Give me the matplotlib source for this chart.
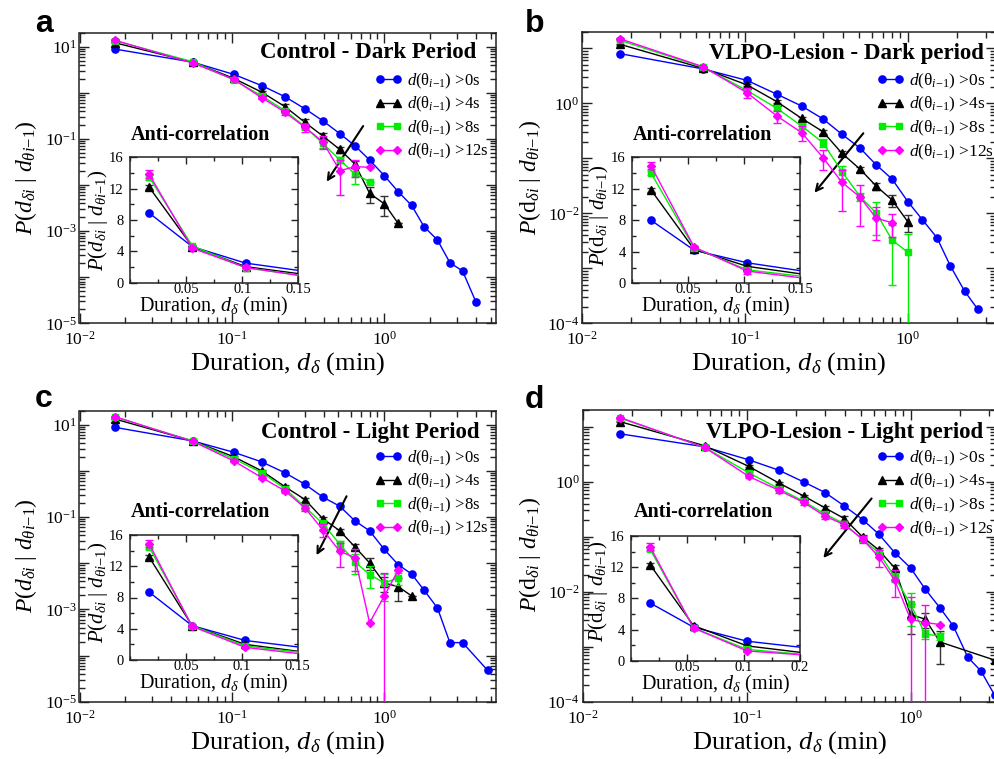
import numpy as np
import matplotlib
matplotlib.use('Agg')
import matplotlib.pyplot as plt
from matplotlib.ticker import FixedLocator, FuncFormatter, LogLocator, NullFormatter, MultipleLocator
from matplotlib.lines import Line2D
from matplotlib.legend_handler import HandlerLine2D

nan = np.nan

# ---------------- data ----------------
# duration bins (min), shared by all panels
x_bins = [0.017, 0.0555, 0.103, 0.157, 0.223, 0.301, 0.394, 0.51, 0.641, 0.80,
          1.0, 1.23, 1.51, 1.82, 2.23, 2.69, 3.26, 3.98, 4.75]

series_labels = [r'$d(\mathrm{θ}_{i{-}1})$ >0s', r'$d(\mathrm{θ}_{i{-}1})$ >4s',
                 r'$d(\mathrm{θ}_{i{-}1})$ >8s', r'$d(\mathrm{θ}_{i{-}1})$ >12s']

# Panel a: Control - Dark Period
a_blue = [8.9, 4.6, 2.5, 1.43, 0.82, 0.45, 0.248, 0.13, 0.071, 0.0348, 0.0159, 0.0072,
          0.0036, 0.00125, 0.00064, 0.000207, 0.000136, 2.95e-5]
a_black = [12.2, 4.6, 2.05, 1.03, 0.5, 0.229, 0.116, 0.059, 0.0285, 0.0066, 0.0039, 0.00148]
a_green = [13.5, 4.7, 1.9, 0.85, 0.41, 0.184, 0.080, 0.035, 0.0173, 0.0118]
a_mag = [13.85, 4.4, 1.95, 0.78, 0.378, 0.178, 0.087, 0.0204, 0.025, 0.0242]
a_black_err = [0.02, 0.02, 0.03, 0.05, 0.12, 0.15, 0.15, 0.15, 0.18, 0.38, 0.45, 0]
a_green_err = [0.03, 0.02, 0.03, 0.05, 0.08, 0.12, 0.2, 0.15, 0.4, 0]
a_mag_err = [0.04, 0.03, 0.05, 0.08, 0.14, 0.2, 0.3, 0.7, 0.4, 0]

# Panel b: VLPO-Lesion - Dark period
b_blue = [8.0, 4.2, 2.6, 1.46, 0.89, 0.52, 0.273, 0.152, 0.0755, 0.042, 0.0163, 0.0076,
          0.0036, 0.00112, 3.86e-4, 1.8e-4]
b_black = [11.85, 4.3, 2.15, 1.07, 0.53, 0.305, 0.123, 0.063, 0.031, 0.0175, 0.0070]
b_green = [14.0, 4.5, 1.7, 0.81, 0.386, 0.192, 0.057, 0.020, 0.010, 0.00327, 0.00195]
b_mag = [14.9, 4.6, 1.55, 0.587, 0.292, 0.103, 0.0366, 0.0195, 0.0081, 0.00676]
b_black_err = [0.02, 0.02, 0.05, 0.05, 0.06, 0.08, 0.1, 0.12, 0.15, 0.25, 0.35]
b_green_err = [0.02, 0.02, 0.05, 0.08, 0.1, 0.15, 0.25, 0.15, 0.6, 0.85, 1.2]
b_mag_err = [0.03, 0.03, 0.2, 0.25, 0.3, 0.4, 0.7, 0.7, 0.6, 0.45]

# Panel c: Control - Light Period
c_blue = [8.7, 4.4, 2.5, 1.55, 0.9, 0.51, 0.27, 0.17, 0.082, 0.05, 0.0197, 0.0093, 0.0058,
          0.0026, 0.00107, 1.9e-4, 1.9e-4, nan, 4.8e-5]
c_black = [13.2, 4.4, 2.0, 0.99, 0.45, 0.238, 0.092, 0.05, 0.0224, 0.0101, 0.0037, 0.0031, 0.00195]
c_green = [14.5, 4.4, 1.8, 0.91, 0.41, 0.164, 0.072, 0.0257, 0.0106, 0.00566, 0.0037, 0.0048]
c_mag = [14.9, 4.3, 1.62, 0.71, 0.366, 0.157, 0.053, 0.018, 0.0132, 5.1e-4, 0.00195, 0.007]
c_black_err = [0.02, 0.02, 0.04, 0.06, 0.08, 0.1, 0.1, 0.12, 0.15, 0.3, 0.35, 0.5, 0]
c_green_err = [0.02, 0.02, 0.04, 0.06, 0.08, 0.12, 0.15, 0.2, 0.45, 0.5, 0.6, 0.3]
c_mag_err = [0.03, 0.03, 0.05, 0.08, 0.12, 0.15, 0.3, 0.55, 0.5, 0, 2.2, 0]

# Panel d: VLPO-Lesion - Light period
d_blue = [7.4, 4.3, 2.5, 1.62, 0.99, 0.635, 0.363, 0.205, 0.111, 0.0515, 0.0271, 0.0111,
          0.0051, 0.0024, 6.5e-4, 3.6e-4, 1.31e-4]
d_black = [12.3, 4.5, 1.9, 0.95, 0.55, 0.334, 0.214, 0.099, 0.057, 0.0271, 0.00385, 0.00316,
           0.00122, nan, nan, nan, 5.7e-4]
d_green = [14.3, 4.2, 1.45, 0.75, 0.44, 0.256, 0.173, 0.089, 0.051, 0.0186, 0.0059, 0.00169, 0.00157]
d_mag = [14.6, 4.2, 1.25, 0.70, 0.42, 0.236, 0.166, 0.09, 0.043, 0.0162, 0.00316, 0.00275, 0.00253]
d_black_err = [0.02, 0.02, 0.04, 0.05, 0.06, 0.08, 0.1, 0.1, 0.1, 0.15, 0.55, 0.3, 0.6, nan, nan, nan, 0]
d_green_err = [0.02, 0.02, 0.05, 0.06, 0.08, 0.1, 0.1, 0.1, 0.1, 0.2, 0.6, 0.2, 0.15]
d_mag_err = [0.03, 0.03, 0.06, 0.1, 0.12, 0.12, 0.15, 0.15, 0.35, 0.5, 1.5, 1.1, 0]

titles = ['Control - Dark Period', 'VLPO-Lesion - Dark period',
          'Control - Light Period', 'VLPO-Lesion - Light period']
inset_xticklabels = [['0.05', '0.1', '0.15']] * 3 + [['0.05', '0.1', '0.2']]

# ---------------- style / layout ----------------
plt.rcParams.update({
    'font.family': ['Liberation Serif', 'DejaVu Serif'],
    'mathtext.fontset': 'custom',
    'mathtext.rm': 'Liberation Serif',
    'mathtext.it': 'Liberation Serif:italic',
    'mathtext.bf': 'Liberation Serif:bold',
    'axes.unicode_minus': False,
})

W, H = 995, 759
fig = plt.figure(figsize=(W / 100, H / 100), dpi=100)


def rect(l, t, r, b):
    return [l / W, 1 - b / H, (r - l) / W, (b - t) / H]


def fpt(x, y):
    return (x / W, 1 - y / H)


styles = [('#0000ff', 'o', 5.2), ('#000000', '^', 5.4), ('#00ee00', 's', 4.6), ('#ff00ff', 'D', 4.0)]
ecolors = ['#0000ff', '#333333', '#00ee00', '#ff00ff']

panels = [
    dict(data=[a_blue, a_black, a_green, a_mag], errs=[None, a_black_err, a_green_err, a_mag_err],
         rect=(79.5, 32.8, 496, 323.3), xlim=(0.01, 5.4), ylim=(1e-5, 20), labdecs=(1, -1, -3, -5),
         ylabel=r'$P(d_{\delta i}\ |\ d_{\theta i{-}1})$',
         inset_ylabel=r'$P(d_{\delta i}\ |\ d_{\theta i{-}1})$',
         inset=(130, 157.3, 298.3, 282.7), title_xy=(476, 53), leg_xy=(380, 79), leg_fs=12,
         arrow=((0.726, 0.19), (0.418, 0.0118)), letter='a', letter_xy=(35, 32),
         xlab_top=350.5, ylab_x=39, ylab_y=178, ins_title_xy=(131, 135), ins_xlab_top=294.5,
         ins_ylab_x=110, ins_ylab_y=220),
    dict(data=[b_blue, b_black, b_green, b_mag], errs=[None, b_black_err, b_green_err, b_mag_err],
         rect=(582.2, 31.7, 996, 323.3), xlim=(0.01, 3.48), ylim=(1e-4, 20), labdecs=(0, -2, -4),
         ylabel=r'$P(\mathrm{d}_{\delta i}\ |\ d_{\theta i{-}1})$',
         inset_ylabel=r'$P(\mathrm{d}_{\delta i}\ |\ d_{\theta i{-}1})$',
         inset=(632, 157.3, 800, 283.3), title_xy=(984, 53), leg_xy=(881.7, 79), leg_fs=12.5,
         arrow=((0.533, 0.285), (0.267, 0.0237)), letter='b', letter_xy=(525, 32),
         xlab_top=350.5, ylab_x=543, ylab_y=178, ins_title_xy=(633, 135), ins_xlab_top=295,
         ins_ylab_x=611, ins_ylab_y=215),
    dict(data=[c_blue, c_black, c_green, c_mag], errs=[None, c_black_err, c_green_err, c_mag_err],
         rect=(79.5, 410.6, 496, 701.7), xlim=(0.01, 5.4), ylim=(1e-5, 20), labdecs=(1, -1, -3, -5),
         ylabel=r'$P(d_{\delta i}\ |\ d_{\theta i{-}1})$',
         inset_ylabel=r'$P(d_{\delta i}\ |\ d_{\theta i{-}1})$',
         inset=(130, 535, 297.7, 660), title_xy=(480, 432), leg_xy=(380, 456), leg_fs=12,
         arrow=((0.565, 0.28), (0.359, 0.0148)), letter='c', letter_xy=(35, 407),
         xlab_top=729.5, ylab_x=39, ylab_y=556, ins_title_xy=(131, 512), ins_xlab_top=672,
         ins_ylab_x=110, ins_ylab_y=592),
    dict(data=[d_blue, d_black, d_green, d_mag], errs=[None, d_black_err, d_green_err, d_mag_err],
         rect=(582.5, 410.1, 996, 701.7), xlim=(0.01, 3.32), ylim=(1e-4, 20), labdecs=(0, -2, -4),
         ylabel=r'$P(\mathrm{d}_{\delta i}\ |\ d_{\theta i{-}1})$',
         inset_ylabel=r'$P(\mathrm{d}_{\delta i}\ |\ d_{\theta i{-}1})$',
         inset=(631, 536, 800, 660.7), title_xy=(983, 432), leg_xy=(881.7, 456), leg_fs=12.5,
         arrow=((0.579, 0.495), (0.294, 0.041)), letter='d', letter_xy=(525, 408),
         xlab_top=729.5, ylab_x=543, ylab_y=555, ins_title_xy=(634, 512), ins_xlab_top=673,
         ins_ylab_x=610, ins_ylab_y=591),
]

xb = np.asarray(x_bins, float)
SP_LW = 1.1


def plot_series(ax, data, errs):
    handles = []
    for k, (y, e) in enumerate(zip(data, errs)):
        c, m, ms = styles[k]
        y = np.asarray(y, float)
        x = xb[:len(y)]
        ok = ~np.isnan(y)
        h, = ax.plot(x[ok], y[ok], color=c, marker=m, ms=ms, mec=c, mfc=c, lw=1.0,
                     label=series_labels[k], zorder=3 + k)
        handles.append(h)
        if e is not None:
            e = np.asarray(e, float)[ok]
            ax.errorbar(x[ok], y[ok], yerr=e * y[ok], fmt='none', ecolor=ecolors[k],
                        elinewidth=1.0, capsize=3.2, capthick=1.0, zorder=2 + k)
    return handles


for i, p in enumerate(panels):
    ax = fig.add_axes(rect(*p['rect']))
    ax.set_xscale('log')
    ax.set_yscale('log')
    handles = plot_series(ax, p['data'], p['errs'])
    ax.set_xlim(*p['xlim'])
    ax.set_ylim(*p['ylim'])
    lo = int(np.floor(np.log10(p['ylim'][0])))
    ax.yaxis.set_major_locator(FixedLocator([10.0 ** d for d in range(lo, 2)]))
    labdecs = p['labdecs']
    ax.yaxis.set_major_formatter(FuncFormatter(
        lambda v, pos, L=labdecs: (r'$\mathdefault{10^{%d}}$' % round(np.log10(v)))
        if round(np.log10(v)) in L else ''))
    ax.yaxis.set_minor_locator(LogLocator(base=10, subs=np.arange(2, 10), numticks=100))
    ax.yaxis.set_minor_formatter(NullFormatter())
    ax.xaxis.set_major_locator(FixedLocator([1e-2, 1e-1, 1e0]))
    ax.xaxis.set_major_formatter(FuncFormatter(
        lambda v, pos: r'$\mathdefault{10^{%d}}$' % round(np.log10(v))))
    ax.xaxis.set_minor_locator(LogLocator(base=10, subs=np.arange(2, 10), numticks=100))
    ax.xaxis.set_minor_formatter(NullFormatter())
    ax.tick_params(which='both', direction='in', top=True, right=True, width=1.0, colors='#222222',
                   labelcolor='black')
    ax.tick_params(which='major', length=7, labelsize=12.5)
    ax.tick_params(axis='x', which='major', pad=5.5)
    ax.tick_params(axis='y', which='major', pad=2)
    ax.tick_params(which='minor', length=4)
    for s in ax.spines.values():
        s.set_linewidth(SP_LW)
        s.set_color('#222222')

    ax.set_xlabel(r'Duration, $d_{\delta}$ (min)', fontsize=19)
    ax.xaxis.set_label_coords(*fpt((p['rect'][0] + p['rect'][2]) / 2, p['xlab_top']),
                              transform=fig.transFigure)
    ax.set_ylabel(p['ylabel'], fontsize=17)
    ax.yaxis.set_label_coords(*fpt(p['ylab_x'], p['ylab_y']), transform=fig.transFigure)

    fig.text(*fpt(*p['title_xy']), titles[i], fontsize=16.5, fontweight='bold',
             ha='right', va='center')
    lx, ly = p['leg_xy']
    ax.legend(handles=handles, loc='upper left', bbox_to_anchor=fpt(lx, ly - 7.5),
              bbox_transform=fig.transFigure, frameon=False, fontsize=p['leg_fs'], numpoints=2,
              handlelength=1.0, handletextpad=0.6, labelspacing=0.26, borderpad=0, borderaxespad=0,
              handler_map={Line2D: HandlerLine2D(marker_pad=0)})
    (tx, ty), (hx, hy) = p['arrow']
    ax.annotate('', xy=(hx, hy), xytext=(tx, ty),
                arrowprops=dict(arrowstyle='->', lw=1.5, color='black', mutation_scale=12,
                                shrinkA=0, shrinkB=0))
    fig.text(*fpt(*p['letter_xy']), p['letter'], fontsize=23, fontweight='bold',
             family=['Liberation Sans', 'DejaVu Sans'], ha='left', va='baseline')

    # inset
    ia = fig.add_axes(rect(*p['inset']))
    plot_series(ia, p['data'], p['errs'])
    ia.set_xlim(0, 0.15)
    ia.set_ylim(0, 16)
    ia.xaxis.set_major_locator(FixedLocator([0.05, 0.1, 0.15]))
    ia.set_xticklabels(inset_xticklabels[i])
    ia.xaxis.set_minor_locator(MultipleLocator(0.025))
    ia.yaxis.set_major_locator(MultipleLocator(4))
    ia.yaxis.set_minor_locator(MultipleLocator(2))
    ia.tick_params(which='both', direction='in', top=True, right=True, width=1.0, colors='#222222',
                   labelcolor='black')
    ia.tick_params(which='major', length=5, labelsize=10.5)
    ia.tick_params(axis='x', which='major', pad=0)
    ia.tick_params(axis='y', which='major', pad=4.5)
    ia.tick_params(which='minor', length=3)
    for s in ia.spines.values():
        s.set_linewidth(SP_LW)
        s.set_color('#222222')
    ia.set_xlabel(r'Duration, $d_{\delta}$ (min)', fontsize=14.5)
    ia.xaxis.set_label_coords(*fpt((p['inset'][0] + p['inset'][2]) / 2, p['ins_xlab_top']),
                              transform=fig.transFigure)
    ia.set_ylabel(p['inset_ylabel'], fontsize=15)
    ia.yaxis.set_label_coords(*fpt(p['ins_ylab_x'], p['ins_ylab_y']), transform=fig.transFigure)
    fig.text(*fpt(*p['ins_title_xy']), 'Anti-correlation', fontsize=14.5, fontweight='bold',
             ha='left', va='center')

fig.savefig('out.png', dpi=100)
